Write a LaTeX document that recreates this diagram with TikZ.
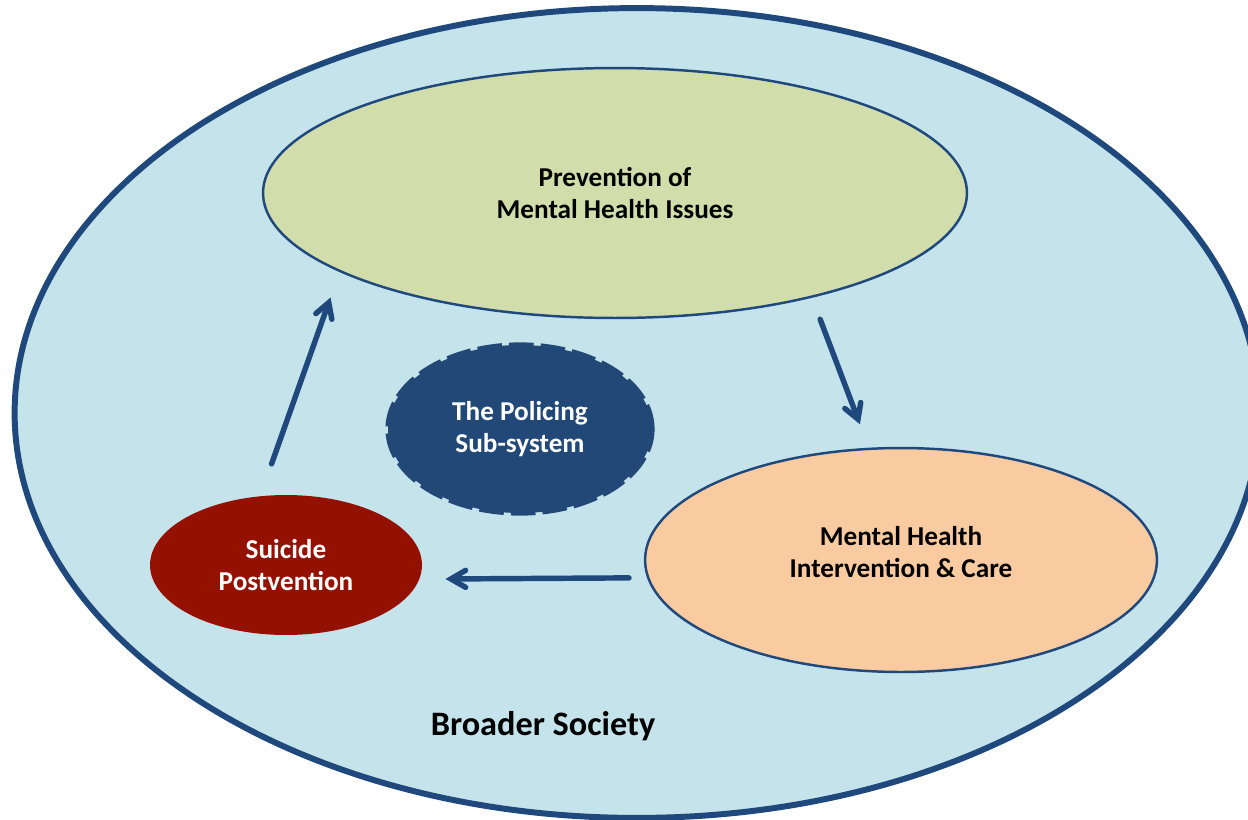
\documentclass[tikz,border=0pt]{standalone}
\usepackage{fontspec}
\setmainfont{Carlito}
\usetikzlibrary{shapes.geometric,arrows}
\definecolor{navy}{RGB}{31,73,125}
\definecolor{sky}{RGB}{197,227,235}
\definecolor{sage}{RGB}{209,221,170}
\definecolor{peach}{RGB}{250,203,160}
\definecolor{brick}{RGB}{148,17,0}
\definecolor{police}{RGB}{33,72,118}
\begin{document}
\begin{tikzpicture}[x=0.02cm,y=-0.02cm,
    area/.style={ellipse,draw=navy,line width=1.4pt,inner sep=0pt,font=\fontsize{15.5}{18.5}\selectfont\bfseries,align=center},
    flow/.style={-angle 60,draw=navy,line width=3.1pt,line cap=round}]
                 \useasboundingbox (0,0) rectangle (1248,819);
                 \node[ellipse,draw=navy,fill=sky,line width=3.4pt,minimum width=24.9cm,minimum height=16.2cm](society)at(637,413){};
                 \node[area,fill=sage,minimum width=14.08cm,minimum height=5cm](prevention)at(615,193){Prevention of\\Mental Health Issues};
                 \node[area,fill=peach,minimum width=10.24cm,minimum height=4.48cm](care)at(901,560){Mental Health\\Intervention \& Care\\[-9.5pt]};
                 \node[area,fill=brick,draw=none,text=white,minimum width=5.44cm,minimum height=2.8cm](postvention)at(286,565){Suicide\\Postvention};
                 \node[area,fill=police,draw=police,line width=3pt,dash pattern=on 14pt off 4pt,text=white,minimum width=5.28cm,minimum height=3.36cm](policing)at(520,429){The Policing\\Sub-system};
                 \node[font=\fontsize{19.5}{23}\selectfont\bfseries](broader)at(543,726){Broader Society};
                 \draw[flow,shorten <=0.66cm,shorten >=0.54cm](postvention.110)--(prevention.196);
                 \draw[flow,shorten <=0.46cm,shorten >=0.5cm](prevention.332)--(care.106);
                 \draw[flow,shorten <=0.36cm,shorten >=0.5cm](care.184)--(postvention.354);
               \end{tikzpicture}
\end{document}
